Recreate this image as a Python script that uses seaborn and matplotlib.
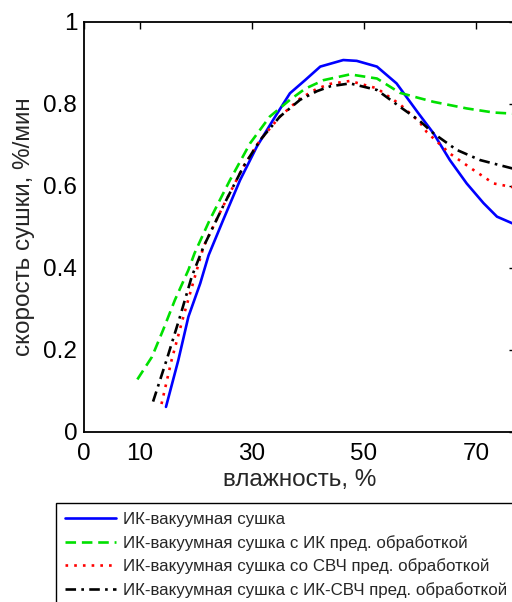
import matplotlib
matplotlib.use("Agg")
import matplotlib.pyplot as plt
import seaborn as sns
import pandas as pd

# ---- data ----
labels = [
    "ИК-вакуумная сушка",
    "ИК-вакуумная сушка с ИК пред. обработкой",
    "ИК-вакуумная сушка со СВЧ пред. обработкой",
    "ИК-вакуумная сушка с ИК-СВЧ пред. обработкой",
]

blue_x = [14.7, 16.9, 18.7, 20.8, 22.3, 24.9, 27.9, 30.9, 33.8, 36.8, 39.5, 42.2,
          46.3, 48.7, 52.3, 55.8, 59.7, 62.4, 65.3, 68.3, 71.3, 73.7, 76.9]
blue_y = [0.06, 0.174, 0.28, 0.361, 0.43, 0.516, 0.613, 0.695, 0.76, 0.825, 0.857, 0.89,
          0.906, 0.904, 0.89, 0.849, 0.776, 0.727, 0.662, 0.605, 0.557, 0.524, 0.505]

green_x = [9.6, 12.2, 14.2, 16.3, 18.7, 19.8, 22.5, 26.1, 29.7, 33.2, 36.8, 39.5,
           42.8, 47.5, 52.3, 56.4, 59.9, 62.4, 68.3, 73.1, 76.9]
green_y = [0.127, 0.182, 0.248, 0.321, 0.394, 0.435, 0.516, 0.613, 0.703, 0.768, 0.809, 0.836,
           0.857, 0.871, 0.861, 0.826, 0.813, 0.804, 0.788, 0.778, 0.775]

red_x = [13.9, 15.7, 17.8, 20.2, 21.4, 24.9, 28.5, 31.5, 35.0, 38.6, 41.6, 44.0,
         47.5, 52.3, 56.4, 59.9, 61.2, 65.3, 69.5, 73.1, 76.9]
red_y = [0.067, 0.174, 0.28, 0.394, 0.451, 0.55, 0.646, 0.711, 0.768, 0.812, 0.836, 0.848,
         0.855, 0.837, 0.798, 0.755, 0.73, 0.678, 0.638, 0.605, 0.595]

black_x = [12.4, 14.8, 17.2, 19.3, 21.4, 24.9, 28.5, 31.5, 35.0, 38.6, 41.6, 44.0,
           47.5, 52.3, 56.4, 59.9, 62.4, 66.5, 70.7, 76.9]
black_y = [0.073, 0.174, 0.28, 0.378, 0.451, 0.55, 0.646, 0.711, 0.768, 0.809, 0.83, 0.842,
           0.849, 0.833, 0.792, 0.758, 0.727, 0.687, 0.662, 0.64]

x_ticks = [0, 10, 30, 50, 70]
y_ticks = [0, 0.2, 0.4, 0.6, 0.8, 1.0]
y_tick_labels = ["0", "0.2", "0.4", "0.6", "0.8", "1"]

# ---- style ----
sns.set_style("white")
plt.rcParams["font.family"] = ["Liberation Sans", "DejaVu Sans"]

W, H = 512, 602
fig = plt.figure(figsize=(W / 100, H / 100), dpi=100)
left_px, right_px, top_px, bottom_px = 83.5, 515.5, 21.5, 431.5
ax = fig.add_axes([left_px / W, 1 - bottom_px / H,
                   (right_px - left_px) / W, (bottom_px - top_px) / H])

series = [
    (blue_x, blue_y, "#0000ff", "-"),
    (green_x, green_y, "#00e000", (0, (4, 2.2))),
    (red_x, red_y, "#ff0000", (0, (1, 2.3))),
    (black_x, black_y, "#000000", (0, (4, 2, 1, 2))),
]
for (xs, ys, col, ls), lab in zip(series, labels):
    df = pd.DataFrame({"x": xs, "y": ys})
    sns.lineplot(data=df, x="x", y="y", ax=ax, color=col, linestyle=ls,
                 linewidth=1.9, sort=False, estimator=None, label=lab, legend=False)

ax.set_xlim(0, 77)
ax.set_ylim(0, 1)
ax.set_xticks(x_ticks)
ax.set_xticklabels([str(t) for t in x_ticks])
ax.set_yticks(y_ticks)
ax.set_yticklabels(y_tick_labels)
ax.tick_params(direction="in", top=True, right=True, length=5, width=1.0,
               labelsize=17.5, colors="black")
ax.tick_params(axis="x", pad=8)
ax.tick_params(axis="y", pad=4.5)
for s in ax.spines.values():
    s.set_visible(True)
    s.set_color("black")
    s.set_linewidth(1.3)

ax.set_xlabel("влажность, %", fontsize=17.5, labelpad=3)
ax.set_ylabel("скорость сушки, %/мин", fontsize=17.5, labelpad=6)

handles, labs = ax.get_legend_handles_labels()
leg = fig.legend(handles, labs, loc="upper left",
                 bbox_to_anchor=(56 / W, 1 - 503 / H), bbox_transform=fig.transFigure,
                 fontsize=12.2, frameon=True, fancybox=False, framealpha=1,
                 edgecolor="black", handlelength=3.0, handletextpad=0.42,
                 labelspacing=0.45, borderpad=0.55, borderaxespad=0)
leg.get_frame().set_linewidth(1.0)

fig.savefig("out.png", dpi=100)
